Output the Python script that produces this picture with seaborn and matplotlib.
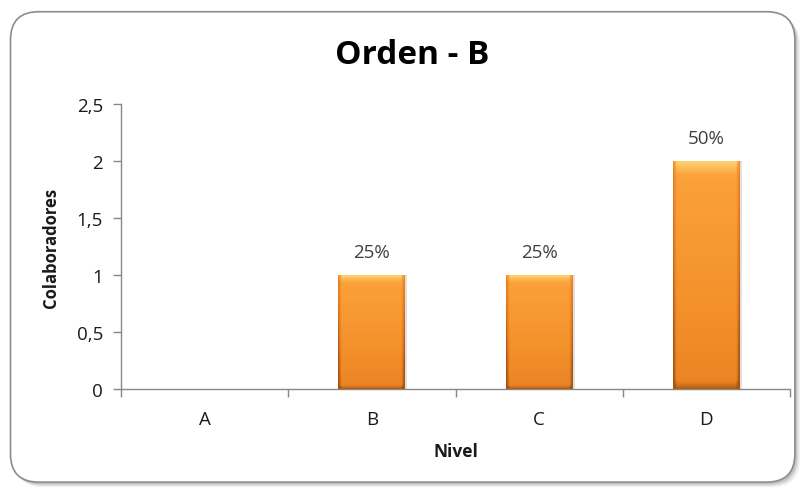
import numpy as np
import pandas as pd
import matplotlib
matplotlib.use("Agg")
import matplotlib.pyplot as plt
import seaborn as sns
from matplotlib.patches import FancyBboxPatch
from matplotlib.colors import LinearSegmentedColormap

# Data
niveles = ["A", "B", "C", "D"]
colaboradores = [0, 1, 1, 2]
porcentajes = ["", "25%", "25%", "50%"]
yticks = [0, 0.5, 1, 1.5, 2, 2.5]
ytick_labels = ["0", "0,5", "1", "1,5", "2", "2,5"]

sns.set_theme(style="white")
plt.rcParams["font.family"] = ["Open Sans", "DejaVu Sans"]

fig = plt.figure(figsize=(8.07, 4.89), dpi=100)

# Rounded chart frame with a soft shadow
for i, a in enumerate([0.05, 0.08, 0.12]):
    off = (3 - i) * 0.0018
    shadow = FancyBboxPatch((0.014 + off, 0.01 - off * 1.6), 0.972, 0.962,
                            boxstyle="round,pad=0,rounding_size=0.035",
                            transform=fig.transFigure, facecolor="black",
                            edgecolor="none", alpha=a, zorder=-3,
                            mutation_aspect=807 / 489)
    fig.patches.append(shadow)
frame = FancyBboxPatch((0.013, 0.012), 0.972, 0.962,
                       boxstyle="round,pad=0,rounding_size=0.035",
                       transform=fig.transFigure, facecolor="white",
                       edgecolor="#8c8c8c", linewidth=1.2, zorder=-1,
                       mutation_aspect=807 / 489)
fig.patches.append(frame)

ax = fig.add_axes([121 / 807, 1 - 390 / 489, (790 - 121) / 807, (390 - 105) / 489])
ax.set_facecolor("none")
ax.set_zorder(2)

df = pd.DataFrame({"Nivel": niveles, "Colaboradores": colaboradores})
sns.barplot(data=df, x="Nivel", y="Colaboradores", ax=ax, width=0.4,
            color="#F79A2E", saturation=1, edgecolor="none", zorder=3)

# Bevelled orange gradient inside each bar (row 0 = top of the bar)
ny, nx = 120, 60
yy = np.linspace(0, 1, ny)[:, None]
xx = np.linspace(0, 1, nx)[None, :]
base = 0.22 + 0.42 * yy  # darker towards the bottom
edge = np.clip(1 - np.minimum(xx, 1 - xx) / 0.05, 0, 1)
top = np.clip(1 - yy / 0.06, 0, 1)
bot = np.clip(1 - (1 - yy) / 0.035, 0, 1)
grad = np.clip(base + 0.45 * edge + 0.3 * bot - 0.22 * top, 0, 1)
cmap = LinearSegmentedColormap.from_list(
    "orange", ["#FFD070", "#FBA13A", "#F3902A", "#E27A22", "#A8550F"])

for p in ax.patches:
    h = p.get_height()
    if h <= 0:
        continue
    x0, w = p.get_x(), p.get_width()
    p.set_facecolor("none")
    im = ax.imshow(grad, cmap=cmap, vmin=0, vmax=1, aspect="auto",
                   extent=(x0, x0 + w, 0, h), origin="upper", zorder=3,
                   interpolation="bilinear")
    im.set_clip_path(p)
    # subtle drop shadow to the right
    ax.add_patch(plt.Rectangle((x0 + w, 0), 0.012, h, facecolor="#000000",
                               alpha=0.12, edgecolor="none", zorder=2))

ax.set_xlim(-0.5, 3.5)
ax.set_ylim(0, 2.5)

# Value labels
for i, (v, lab) in enumerate(zip(colaboradores, porcentajes)):
    if lab:
        ax.text(i, v + 0.12, lab, ha="center", va="bottom", fontsize=13.5,
                color="#404040")

# Axes styling
for s in ["top", "right"]:
    ax.spines[s].set_visible(False)
for s in ["left", "bottom"]:
    ax.spines[s].set_color("#888888")
    ax.spines[s].set_linewidth(1)

ax.set_yticks(yticks)
ax.set_yticklabels(ytick_labels, fontsize=13.5, color="#1a1a1a")
ax.tick_params(axis="y", which="major", direction="out", length=6, width=1,
               color="#888888", pad=7, left=True)

ax.set_xticks([-0.5, 0.5, 1.5, 2.5, 3.5])
ax.set_xticklabels([])
ax.tick_params(axis="x", which="major", direction="out", length=6, width=1,
               color="#888888", bottom=True)
ax.set_xticks(range(len(niveles)), minor=True)
ax.set_xticklabels(niveles, minor=True, fontsize=13.5, color="#1a1a1a")
ax.tick_params(axis="x", which="minor", length=0, pad=15)

ax.set_xlabel("Nivel", fontsize=12.5, fontweight="bold", color="#1a1a1a", labelpad=10)
ax.set_ylabel("Colaboradores", fontsize=12, fontweight="bold", color="#1a1a1a", labelpad=12)
ax.grid(False)

fig.text(412 / 807, 1 - 55 / 489, "Orden - B", ha="center",
         va="center", fontsize=24, fontweight="bold", color="black")

fig.savefig("out.png", dpi=100)
